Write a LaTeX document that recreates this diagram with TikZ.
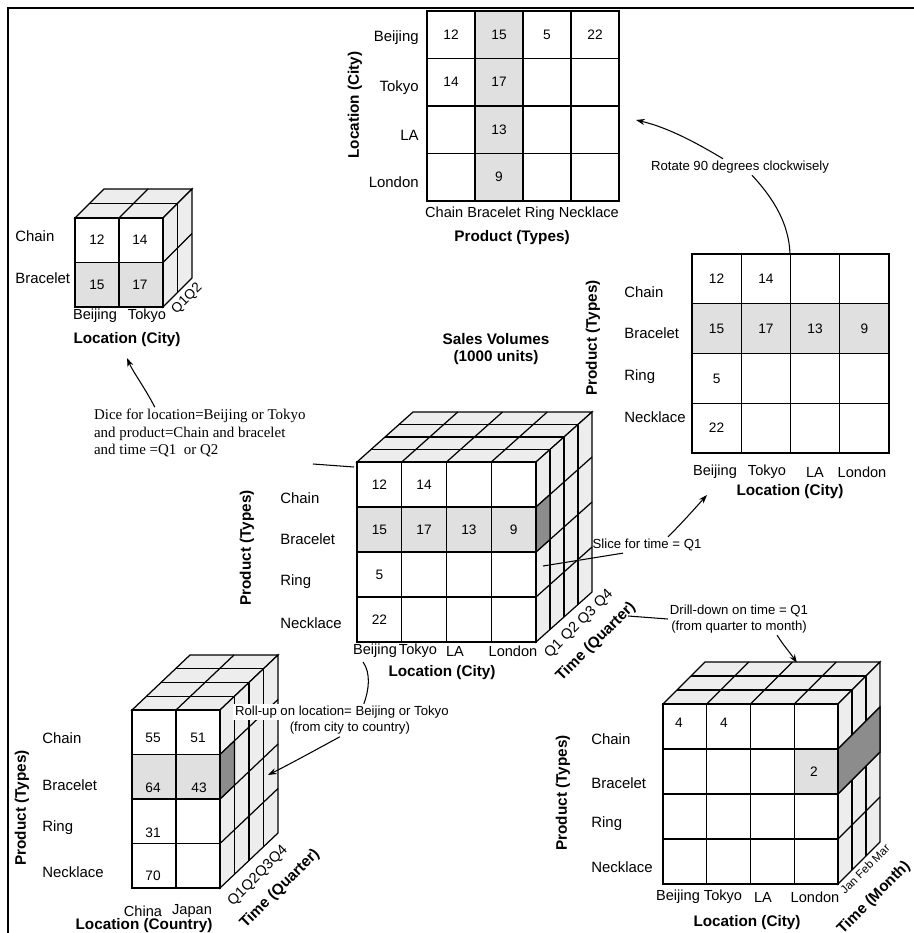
\documentclass[tikz,border=0pt]{standalone}
\usepackage{fontspec}
\setmainfont{Liberation Sans}
\newfontfamily\notefont{Liberation Serif}
\usetikzlibrary{arrows.meta, positioning}

\tikzset{
  cell/.style={line width=0.7pt},
  shaded/.style={fill=black!12, line width=0.7pt},
  face/.style={fill=black!7, line width=0.7pt},
  darkside/.style={fill=black!45, line width=0.7pt},
  rowlbl/.style={anchor=west, inner sep=0pt, font=\fontsize{8.5}{10}\selectfont},
  collbl/.style={inner sep=0pt, font=\fontsize{8.3}{10}\selectfont},
  axislbl/.style={inner sep=0pt, font=\bfseries\fontsize{8.7}{10}\selectfont},
  num/.style={inner sep=0pt, font=\fontsize{7.8}{9}\selectfont},
  note/.style={inner sep=1pt, align=center, font=\fontsize{7.5}{9}\selectfont},
  pointer/.style={-{Stealth[length=5pt,width=3.5pt]}, line width=0.6pt},
}

% cube of slabs: x, y (front top-left), cols, rows, cell w, cell h, layers, layer dx, layer rise
\newcommand{\datacube}[9]{%
  \pgfmathtruncatemacro{\lastlayer}{#7-1}
  \pgfmathtruncatemacro{\lastcol}{#3-1}
  \pgfmathtruncatemacro{\lastrow}{#4-1}
  % top face
  \draw[face] (#1,#2) -- (#1+#3*#5,#2) -- (#1+#3*#5+#7*#8,#2-#7*#9) -- (#1+#7*#8,#2-#7*#9) -- cycle;
  % right face
  \draw[face] (#1+#3*#5,#2) -- (#1+#3*#5+#7*#8,#2-#7*#9) -- (#1+#3*#5+#7*#8,#2+#4*#6-#7*#9) -- (#1+#3*#5,#2+#4*#6) -- cycle;
  \foreach \k in {1,...,\lastlayer} {
    \draw[cell] (#1+\k*#8,#2-\k*#9) -- ++(#3*#5,0);
    \draw[cell] (#1+#3*#5+\k*#8,#2-\k*#9) -- ++(0,#4*#6);
  }
  \foreach \i in {1,...,\lastcol}
    \draw[cell] (#1+\i*#5,#2) -- ++(#7*#8,-#7*#9);
  \foreach \j in {1,...,\lastrow}
    \draw[cell] (#1+#3*#5,#2+\j*#6) -- ++(#7*#8,-#7*#9);
  % front face
  \draw[cell, fill=white] (#1,#2) rectangle ++(#3*#5,#4*#6);
}

% plain table: x, y, cols, rows, cell w, cell h
\newcommand{\flatgrid}[6]{%
  \pgfmathtruncatemacro{\lastcol}{#3-1}
  \pgfmathtruncatemacro{\lastrow}{#4-1}
  \foreach \i in {1,...,\lastcol}
    \draw[cell] (#1+\i*#5,#2) -- ++(0,#4*#6);
  \foreach \j in {1,...,\lastrow}
    \draw[cell] (#1,#2+\j*#6) -- ++(#3*#5,0);
  \draw[cell] (#1,#2) rectangle ++(#3*#5,#4*#6);
}

\begin{document}
\begin{tikzpicture}[x=0.02cm, y=-0.02cm]
  \useasboundingbox (0,0) rectangle (913,933);

  % frame
  \draw[line width=0.8pt] (8,940) -- (8,8) -- (920,8);

  %% Rotated table (top)
  \draw[shaded] (475,11) rectangle ++(48,190);
  \flatgrid{427}{11}{4}{4}{48}{47.5}
  \node[num] (t12) at (451,35) {12};
  \node[num] (t14) at (451,82) {14};
  \node[num] (t15) at (499,35) {15};
  \node[num] (t17) at (499,82) {17};
  \node[num] (t13) at (499,130) {13};
  \node[num] (t9) at (499,177) {9};
  \node[num] (t5) at (547,35) {5};
  \node[num] (t22) at (595,35) {22};
  \node[rowlbl, anchor=east] (tBeijing) at (419,38) {Beijing};
  \node[rowlbl, anchor=east] (tTokyo) at (419,88) {Tokyo};
  \node[rowlbl, anchor=east] (tLA) at (419,135) {LA};
  \node[rowlbl, anchor=east] (tLondon) at (419,182) {London};
  \node[axislbl, rotate=90] (tloc) at (355,105) {Location (City)};
  \node[collbl] (tcols) at (522,214) {Chain Bracelet Ring Necklace};
  \node[axislbl] (tprod) at (512,238) {Product (Types)};

  % rotate arrow
  \node[note] (rot) at (740,167) {Rotate 90 degrees clockwisely};
  \coordinate (rottip) at (636,120);
  \coordinate (sgtop) at (790,254);
  \draw[pointer] ([xshift=-0.34cm]rot.north) .. controls (700,145) and (670,128) .. (rottip);
  \draw[line width=0.6pt] ([xshift=0.24cm]rot.south) .. controls (775,200) and (789,225) .. (sgtop);

  %% Slice table (right)
  \draw[shaded] (692,303.75) rectangle ++(197,49.75);
  \flatgrid{692}{254}{4}{4}{49.25}{49.75}
  \node[num] (s12) at (716.6,278.9) {12};
  \node[num] (s14) at (765.9,278.9) {14};
  \node[num] (s15) at (716.6,328.6) {15};
  \node[num] (s17) at (765.9,328.6) {17};
  \node[num] (s13) at (815.1,328.6) {13};
  \node[num] (s9) at (864.4,328.6) {9};
  \node[num] (s5) at (716.6,378.4) {5};
  \node[num] (s22) at (716.6,428.1) {22};
  \node[rowlbl] (sChain) at (624,292) {Chain};
  \node[rowlbl] (sBracelet) at (624,333) {Bracelet};
  \node[rowlbl] (sRing) at (624,377) {Ring};
  \node[rowlbl] (sNecklace) at (624,417) {Necklace};
  \node[axislbl, rotate=90] (sprod) at (593,338) {Product (Types)};
  \node[collbl] (sBeijing) at (715,472) {Beijing};
  \node[collbl] (sTokyo) at (767,472) {Tokyo};
  \node[collbl] (sLA) at (815,472) {LA};
  \node[collbl] (sLondon) at (862,472) {London};
  \node[axislbl] (sloc) at (790,492) {Location (City)};

  %% Dice cube (top left)
  \datacube{75}{218}{2}{2}{44}{44.5}{2}{14.5}{14.5}
  \draw[shaded] (75,262.5) rectangle ++(88,44.5);
  \draw[cell] (119,218) -- ++(0,89);
  \node[num] (d12) at (97,240) {12};
  \node[num] (d14) at (140,240) {14};
  \node[num] (d15) at (97,285) {15};
  \node[num] (d17) at (140,285) {17};
  \node[rowlbl] (dChain) at (15,236) {Chain};
  \node[rowlbl] (dBracelet) at (15,278) {Bracelet};
  \node[collbl] (dBeijing) at (95,316) {Beijing};
  \node[collbl] (dTokyo) at (147,316) {Tokyo};
  \node[axislbl] (dloc) at (127,340) {Location (City)};
  \node[num, rotate=45] (dq) at (187,299) {Q1Q2};

  % dice note
  \node[inner sep=1pt, anchor=west, align=left, font=\notefont\fontsize{8.5}{9.8}\selectfont] (dice) at (92,433)
    {Dice for location=Beijing or Tokyo\\and product=Chain and bracelet\\and time =Q1\ \ or Q2};
  \coordinate (dicetip) at (127,358);
  \draw[pointer] ([xshift=-0.9cm]dice.north) .. controls (145,388) and (133,372) .. (dicetip);
  \coordinate (dicefree) at (313,464);
  \coordinate (ccorner) at (354,467);
  \draw[line width=0.6pt] (dicefree) -- (ccorner);

  %% Central cube
  \node[axislbl, align=center] (sales) at (496,349) {Sales Volumes\\(1000 units)};
  \datacube{357}{462}{4}{4}{44.75}{45}{4}{14}{12.5}
  \draw[darkside] (536,507) -- (550,494.5) -- (550,539.5) -- (536,552) -- cycle;
  \draw[shaded] (357,507) rectangle ++(179,45);
  \flatgrid{357}{462}{4}{4}{44.75}{45}
  \node[num] (c12) at (379.4,484.5) {12};
  \node[num] (c14) at (424.1,484.5) {14};
  \node[num] (c15) at (379.4,529.5) {15};
  \node[num] (c17) at (424.1,529.5) {17};
  \node[num] (c13) at (468.9,529.5) {13};
  \node[num] (c9) at (513.6,529.5) {9};
  \node[num] (c5) at (379.4,574.5) {5};
  \node[num] (c22) at (379.4,619.5) {22};
  \node[rowlbl] (cChain) at (280,498) {Chain};
  \node[rowlbl] (cBracelet) at (280,539) {Bracelet};
  \node[rowlbl] (cRing) at (280,582) {Ring};
  \node[rowlbl] (cNecklace) at (280,623) {Necklace};
  \node[axislbl, rotate=90] (cprod) at (247,548) {Product (Types)};
  \node[collbl] (cBeijing) at (375,651) {Beijing};
  \node[collbl] (cTokyo) at (418,651) {Tokyo};
  \node[collbl] (cLA) at (455,651) {LA};
  \node[collbl] (cLondon) at (513,651) {London};
  \node[axislbl] (cloc) at (442,673) {Location (City)};
  \node[collbl, rotate=45] (cq) at (579,624) {Q1 Q2 Q3 Q4};
  \node[axislbl, rotate=45] (ctime) at (596,642) {Time (Quarter)};

  % slice
  \node[note] (slice) at (647,545) {Slice for time = Q1};
  \coordinate (slicefree) at (543,566);
  \coordinate (slicetip) at (707,495);
  \draw[line width=0.6pt] (slicefree) -- ([xshift=-0.48cm]slice.south);
  \draw[pointer] ([xshift=0.42cm]slice.north) .. controls (683,522) and (697,506) .. (slicetip);

  %% Drill-down cube (bottom right)
  \node[note] (drill) at (739,619) {Drill-down on time = Q1\\(from quarter to month)};
  \coordinate (drillfree) at (628,616);
  \coordinate (drilltip) at (797,663);
  \draw[line width=0.6pt] (drillfree) -- (drill.west);
  \draw[pointer] ([xshift=0.76cm]drill.south) .. controls (784,646) and (791,654) .. (drilltip);
  \datacube{663}{704}{4}{4}{43.75}{45}{3}{14}{14}
  \draw[darkside] (838,749) -- (880,707) -- (880,752) -- (838,794) -- cycle;
  \draw[shaded] (794.25,749) rectangle ++(43.75,45);
  \flatgrid{663}{704}{4}{4}{43.75}{45}
  \node[num] (m4a) at (679,723) {4};
  \node[num] (m4b) at (724,723) {4};
  \node[num] (m2) at (814,772) {2};
  \node[rowlbl] (mChain) at (591,739) {Chain};
  \node[rowlbl] (mBracelet) at (591,783) {Bracelet};
  \node[rowlbl] (mRing) at (591,824) {Ring};
  \node[rowlbl] (mNecklace) at (591,867) {Necklace};
  \node[axislbl, rotate=90] (mprod) at (563,793) {Product (Types)};
  \node[collbl] (mBeijing) at (678,897) {Beijing};
  \node[collbl] (mTokyo) at (723,897) {Tokyo};
  \node[collbl] (mLA) at (763,897) {LA};
  \node[collbl] (mLondon) at (815,897) {London};
  \node[axislbl] (mloc) at (747,923) {Location (City)};
  \node[num, rotate=45, font=\fontsize{6.5}{8}\selectfont] (mmonths) at (865,869) {Jan Feb Mar};
  \node[axislbl, rotate=45] (mtime) at (874,898) {Time (Month)};

  %% Roll-up cube (bottom left)
  \datacube{132}{710}{2}{4}{44}{44.5}{4}{14.5}{13.75}
  \draw[darkside] (220,754.5) -- (234.5,740.75) -- (234.5,785.25) -- (220,799) -- cycle;
  \draw[shaded] (132,754.5) rectangle ++(88,44.5);
  \flatgrid{132}{710}{2}{4}{44}{44.5}
  \node[num] (r55) at (153,738) {55};
  \node[num] (r51) at (198,738) {51};
  \node[num] (r64) at (153,788) {64};
  \node[num] (r43) at (199,788) {43};
  \node[num] (r31) at (153,833) {31};
  \node[num] (r70) at (153,876) {70};
  \node[rowlbl] (rChain) at (42,738) {Chain};
  \node[rowlbl] (rBracelet) at (42,785) {Bracelet};
  \node[rowlbl] (rRing) at (42,828) {Ring};
  \node[rowlbl] (rNecklace) at (42,872) {Necklace};
  \node[axislbl, rotate=90] (rprod) at (22,808) {Product (Types)};
  \node[collbl] (rChina) at (143,911) {China};
  \node[collbl] (rJapan) at (192,911) {Japan};
  \node[axislbl] (rloc) at (144,926) {Location (Country)};
  \node[collbl, rotate=45] (rq) at (258,876) {Q1Q2Q3Q4};
  \node[axislbl, rotate=45] (rtime) at (280,889) {Time (Quarter)};

  % roll-up note
  \node[note, fill=white, anchor=west] (roll) at (233,712) {Roll-up on location= Beijing or Tokyo};
  \node[note, anchor=north] (rollsub) at ([xshift=0.16cm]roll.south) {(from city to country)};
  \coordinate (rollfree) at (363,662);
  \coordinate (rolltip) at (268,775);
  \draw[line width=0.6pt] (rollfree) .. controls (371,673) and (369,690) .. ([xshift=0.44cm]roll.north);
  \draw[pointer] ([xshift=-0.2cm]rollsub.south) .. controls (312,752) and (288,765) .. (rolltip);

\end{tikzpicture}
\end{document}
